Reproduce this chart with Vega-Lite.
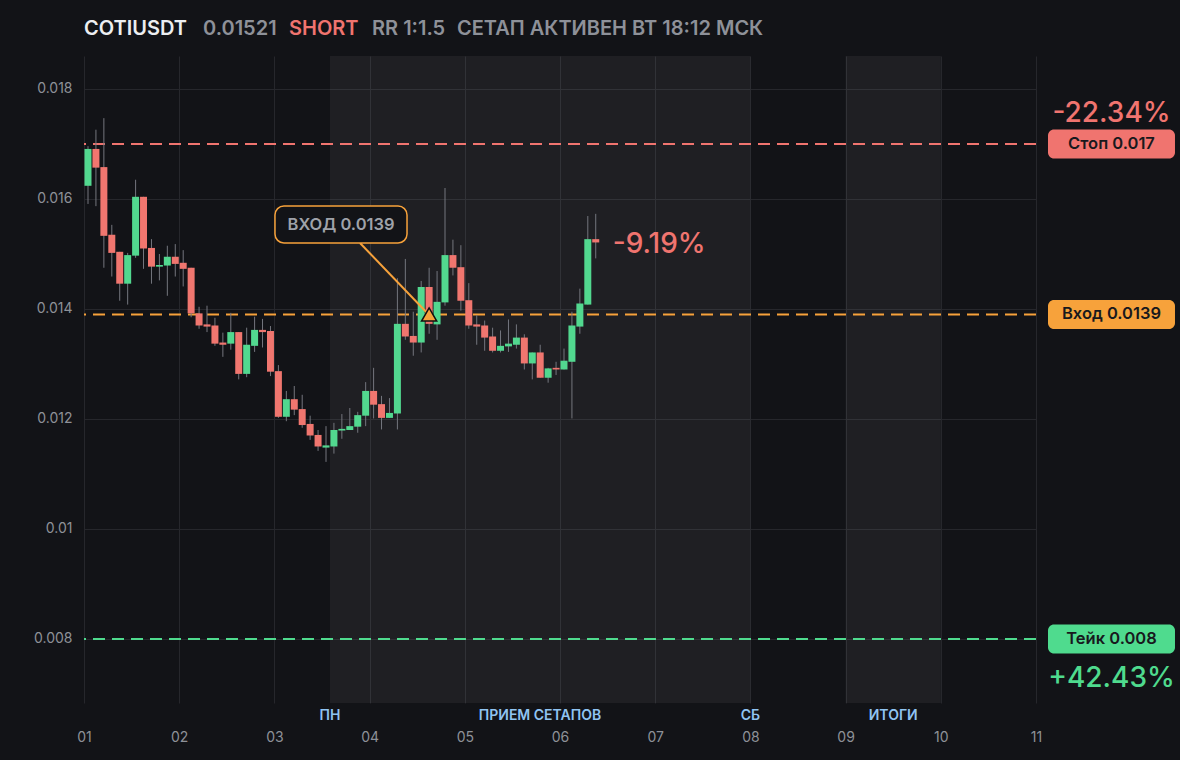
{
  "$schema": "https://vega.github.io/schema/vega-lite/v6.json",
  "width": 952,
  "height": 647,
  "autosize": {"type": "none"},
  "padding": {"left": 84, "top": 56, "right": 144, "bottom": 57},
  "background": "#121317",
  "config": {
    "font": "Inter",
    "view": {"stroke": null},
    "axis": {"domain": false, "ticks": false, "labelFlush": false, "gridColor": "#26272c", "gridWidth": 1, "labelFont": "Inter", "labelFontSize": 14, "labelColor": "#8e9198", "title": null}
  },
  "datasets": {
    "candles": [
      {"t": 1.0000, "o": 0.01624, "h": 0.01696, "l": 0.01591, "c": 0.01691},
      {"t": 1.0833, "o": 0.01691, "h": 0.01726, "l": 0.01587, "c": 0.01657},
      {"t": 1.1667, "o": 0.01658, "h": 0.01747, "l": 0.01475, "c": 0.01533},
      {"t": 1.2500, "o": 0.01535, "h": 0.01553, "l": 0.01459, "c": 0.01502},
      {"t": 1.3333, "o": 0.01504, "h": 0.01504, "l": 0.01415, "c": 0.01446},
      {"t": 1.4167, "o": 0.01446, "h": 0.01502, "l": 0.01408, "c": 0.01498},
      {"t": 1.5000, "o": 0.01497, "h": 0.01635, "l": 0.01493, "c": 0.01604},
      {"t": 1.5833, "o": 0.01604, "h": 0.01604, "l": 0.01473, "c": 0.01510},
      {"t": 1.6667, "o": 0.01511, "h": 0.01527, "l": 0.01446, "c": 0.01477},
      {"t": 1.7500, "o": 0.01477, "h": 0.01500, "l": 0.01452, "c": 0.01480},
      {"t": 1.8333, "o": 0.01479, "h": 0.01515, "l": 0.01424, "c": 0.01495},
      {"t": 1.9167, "o": 0.01495, "h": 0.01518, "l": 0.01459, "c": 0.01482},
      {"t": 2.0000, "o": 0.01484, "h": 0.01507, "l": 0.01441, "c": 0.01473},
      {"t": 2.0833, "o": 0.01475, "h": 0.01475, "l": 0.01385, "c": 0.01392},
      {"t": 2.1667, "o": 0.01392, "h": 0.01404, "l": 0.01364, "c": 0.01370},
      {"t": 2.2500, "o": 0.01372, "h": 0.01406, "l": 0.01358, "c": 0.01368},
      {"t": 2.3333, "o": 0.01370, "h": 0.01384, "l": 0.01333, "c": 0.01337},
      {"t": 2.4167, "o": 0.01339, "h": 0.01357, "l": 0.01313, "c": 0.01335},
      {"t": 2.5000, "o": 0.01337, "h": 0.01393, "l": 0.01326, "c": 0.01358},
      {"t": 2.5833, "o": 0.01358, "h": 0.01358, "l": 0.01272, "c": 0.01282},
      {"t": 2.6667, "o": 0.01282, "h": 0.01366, "l": 0.01276, "c": 0.01335},
      {"t": 2.7500, "o": 0.01333, "h": 0.01386, "l": 0.01322, "c": 0.01362},
      {"t": 2.8333, "o": 0.01362, "h": 0.01382, "l": 0.01330, "c": 0.01358},
      {"t": 2.9167, "o": 0.01360, "h": 0.01369, "l": 0.01278, "c": 0.01286},
      {"t": 3.0000, "o": 0.01287, "h": 0.01298, "l": 0.01202, "c": 0.01204},
      {"t": 3.0833, "o": 0.01204, "h": 0.01251, "l": 0.01196, "c": 0.01236},
      {"t": 3.1667, "o": 0.01236, "h": 0.01260, "l": 0.01207, "c": 0.01217},
      {"t": 3.2500, "o": 0.01218, "h": 0.01244, "l": 0.01184, "c": 0.01189},
      {"t": 3.3333, "o": 0.01191, "h": 0.01206, "l": 0.01162, "c": 0.01170},
      {"t": 3.4167, "o": 0.01171, "h": 0.01180, "l": 0.01142, "c": 0.01150},
      {"t": 3.5000, "o": 0.01148, "h": 0.01187, "l": 0.01122, "c": 0.01152},
      {"t": 3.5833, "o": 0.01150, "h": 0.01193, "l": 0.01137, "c": 0.01180},
      {"t": 3.6667, "o": 0.01179, "h": 0.01209, "l": 0.01164, "c": 0.01182},
      {"t": 3.7500, "o": 0.01180, "h": 0.01220, "l": 0.01180, "c": 0.01187},
      {"t": 3.8333, "o": 0.01186, "h": 0.01213, "l": 0.01175, "c": 0.01207},
      {"t": 3.9167, "o": 0.01206, "h": 0.01267, "l": 0.01187, "c": 0.01251},
      {"t": 4.0000, "o": 0.01251, "h": 0.01293, "l": 0.01201, "c": 0.01226},
      {"t": 4.0833, "o": 0.01227, "h": 0.01242, "l": 0.01181, "c": 0.01202},
      {"t": 4.1667, "o": 0.01202, "h": 0.01238, "l": 0.01202, "c": 0.01211},
      {"t": 4.2500, "o": 0.01210, "h": 0.01456, "l": 0.01181, "c": 0.01373},
      {"t": 4.3333, "o": 0.01373, "h": 0.01491, "l": 0.01344, "c": 0.01350},
      {"t": 4.4167, "o": 0.01351, "h": 0.01395, "l": 0.01315, "c": 0.01339},
      {"t": 4.5000, "o": 0.01339, "h": 0.01451, "l": 0.01321, "c": 0.01440},
      {"t": 4.5833, "o": 0.01440, "h": 0.01475, "l": 0.01355, "c": 0.01373},
      {"t": 4.6667, "o": 0.01372, "h": 0.01469, "l": 0.01344, "c": 0.01413},
      {"t": 4.7500, "o": 0.01412, "h": 0.01620, "l": 0.01406, "c": 0.01498},
      {"t": 4.8333, "o": 0.01498, "h": 0.01526, "l": 0.01461, "c": 0.01475},
      {"t": 4.9167, "o": 0.01476, "h": 0.01516, "l": 0.01397, "c": 0.01415},
      {"t": 5.0000, "o": 0.01416, "h": 0.01447, "l": 0.01364, "c": 0.01370},
      {"t": 5.0833, "o": 0.01372, "h": 0.01389, "l": 0.01335, "c": 0.01368},
      {"t": 5.1667, "o": 0.01370, "h": 0.01379, "l": 0.01324, "c": 0.01348},
      {"t": 5.2500, "o": 0.01350, "h": 0.01366, "l": 0.01321, "c": 0.01324},
      {"t": 5.3333, "o": 0.01324, "h": 0.01361, "l": 0.01321, "c": 0.01333},
      {"t": 5.4167, "o": 0.01332, "h": 0.01381, "l": 0.01322, "c": 0.01337},
      {"t": 5.5000, "o": 0.01335, "h": 0.01372, "l": 0.01328, "c": 0.01348},
      {"t": 5.5833, "o": 0.01348, "h": 0.01354, "l": 0.01290, "c": 0.01301},
      {"t": 5.6667, "o": 0.01301, "h": 0.01321, "l": 0.01272, "c": 0.01321},
      {"t": 5.7500, "o": 0.01321, "h": 0.01335, "l": 0.01275, "c": 0.01275},
      {"t": 5.8333, "o": 0.01275, "h": 0.01293, "l": 0.01266, "c": 0.01292},
      {"t": 5.9167, "o": 0.01293, "h": 0.01304, "l": 0.01280, "c": 0.01290},
      {"t": 6.0000, "o": 0.01290, "h": 0.01328, "l": 0.01290, "c": 0.01306},
      {"t": 6.0833, "o": 0.01304, "h": 0.01395, "l": 0.01201, "c": 0.01370},
      {"t": 6.1667, "o": 0.01368, "h": 0.01437, "l": 0.01355, "c": 0.01410},
      {"t": 6.2500, "o": 0.01408, "h": 0.01569, "l": 0.01408, "c": 0.01527},
      {"t": 6.3333, "o": 0.01527, "h": 0.01573, "l": 0.01492, "c": 0.01521}
    ],
    "levels": [
      {"name": "Стоп", "price": 0.017, "label": "Стоп 0.017", "pct": "-22.34%"},
      {"name": "Вход", "price": 0.0139, "label": "Вход 0.0139", "pct": ""},
      {"name": "Тейк", "price": 0.008, "label": "Тейк 0.008", "pct": "+42.43%"}
    ],
    "zones": [
      {"from": 3.5833, "to": 8},
      {"from": 9, "to": 10}
    ],
    "zoneLabels": [
      {"t": 3.5833, "name": "ПН"},
      {"t": 5.79, "name": "ПРИЕМ СЕТАПОВ"},
      {"t": 8, "name": "СБ"},
      {"t": 9.5, "name": "ИТОГИ"}
    ],
    "entry": [
      {"t": 4.5833, "price": 0.0139, "text": "ВХОД 0.0139"}
    ],
    "last": [
      {"t": 6.3333, "price": 0.01521, "text": "-9.19%"}
    ],
    "header": [
      {"part": "symbol", "text": "COTIUSDT"},
      {"part": "price", "text": "0.01521"},
      {"part": "side", "text": "SHORT"},
      {"part": "rr", "text": "RR 1:1.5"},
      {"part": "status", "text": "СЕТАП АКТИВЕН ВТ 18:12 МСК"}
    ]
  },
  "layer": [
    {
      "data": {"name": "zones"},
      "mark": {"type": "rect", "fill": "#ffffff", "opacity": 0.055},
      "encoding": {
        "x": {"field": "from", "type": "quantitative",
              "scale": {"domain": [1, 11], "nice": false, "zero": false, "padding": 0},
              "axis": {"values": [1, 2, 3, 4, 5, 6, 7, 8, 9, 10, 11], "format": "02d", "grid": true, "labelBaseline": "middle", "labelPadding": 34}},
        "x2": {"field": "to"}
      }
    },
    {
      "data": {"name": "levels"},
      "mark": {"type": "rule", "strokeDash": [12, 7], "strokeWidth": 2},
      "encoding": {
        "y": {"field": "price", "type": "quantitative",
              "scale": {"domain": [0.006836, 0.0186], "nice": false, "zero": false, "padding": 0},
              "axis": {"values": [0.008, 0.01, 0.012, 0.014, 0.016, 0.018], "format": "~g", "grid": true, "labelPadding": 12}},
        "color": {"field": "name", "type": "nominal", "scale": {"domain": ["Стоп", "Вход", "Тейк"], "range": ["#f0746f", "#f7a23b", "#4fdb8e"]}, "legend": null}
      }
    },
    {
      "data": {"name": "candles"},
      "mark": {"type": "rule", "color": "#74767e", "strokeWidth": 1, "xOffset": 4},
      "encoding": {
        "x": {"field": "t", "type": "quantitative"},
        "y": {"field": "l", "type": "quantitative"},
        "y2": {"field": "h"}
      }
    },
    {
      "data": {"name": "candles"},
      "mark": {"type": "bar", "size": 7, "xOffset": 4},
      "encoding": {
        "x": {"field": "t", "type": "quantitative"},
        "y": {"field": "o", "type": "quantitative"},
        "y2": {"field": "c"},
        "color": {"condition": {"test": "datum.c >= datum.o", "value": "#52d88f"}, "value": "#f0766f"}
      }
    },
    {
      "data": {"values": [{}]},
      "mark": {"type": "rule", "color": "#f7a23b", "strokeWidth": 2},
      "encoding": {
        "x": {"datum": 3.899}, "y": {"datum": 0.0152},
        "x2": {"datum": 4.62}, "y2": {"datum": 0.0139}
      }
    },
    {
      "data": {"values": [{}]},
      "mark": {"type": "rect", "fill": "#121317", "stroke": "#f7a23b", "strokeWidth": 1.5, "cornerRadius": 9},
      "encoding": {
        "x": {"datum": 3.006}, "x2": {"datum": 4.393},
        "y": {"datum": 0.015873}, "y2": {"datum": 0.0152}
      }
    },
    {
      "data": {"name": "entry"},
      "mark": {"type": "text", "fontSize": 16.5, "fontWeight": 600, "color": "#9fa2a9", "align": "center", "baseline": "middle"},
      "encoding": {
        "x": {"datum": 3.70}, "y": {"datum": 0.015536},
        "text": {"field": "text"}
      }
    },
    {
      "data": {"name": "entry"},
      "mark": {"type": "point", "shape": "triangle-up", "size": 230, "filled": true, "fill": "#f7a23b", "stroke": "#111111", "strokeWidth": 1.5, "opacity": 1, "xOffset": 4},
      "encoding": {
        "x": {"field": "t", "type": "quantitative"},
        "y": {"field": "price", "type": "quantitative"}
      }
    },
    {
      "data": {"name": "levels"},
      "mark": {"type": "bar", "size": 29, "cornerRadius": 6},
      "encoding": {
        "x": {"datum": 11.126}, "x2": {"datum": 12.46},
        "y": {"field": "price", "type": "quantitative"},
        "color": {"field": "name", "type": "nominal", "legend": null}
      }
    },
    {
      "data": {"name": "levels"},
      "mark": {"type": "text", "fontSize": 16.5, "fontWeight": 600, "color": "#18191d", "align": "center", "baseline": "middle"},
      "encoding": {
        "x": {"datum": 11.793},
        "y": {"field": "price", "type": "quantitative"},
        "text": {"field": "label"}
      }
    },
    {
      "data": {"name": "levels"},
      "transform": [{"filter": "datum.name === 'Стоп'"}],
      "mark": {"type": "text", "fontSize": 28, "fontWeight": 500, "align": "center", "baseline": "middle", "dy": -30},
      "encoding": {
        "x": {"datum": 11.793},
        "y": {"field": "price", "type": "quantitative"},
        "text": {"field": "pct"},
        "color": {"field": "name", "type": "nominal", "legend": null}
      }
    },
    {
      "data": {"name": "levels"},
      "transform": [{"filter": "datum.name === 'Тейк'"}],
      "mark": {"type": "text", "fontSize": 28, "fontWeight": 500, "align": "center", "baseline": "middle", "dy": 40},
      "encoding": {
        "x": {"datum": 11.793},
        "y": {"field": "price", "type": "quantitative"},
        "text": {"field": "pct"},
        "color": {"field": "name", "type": "nominal", "legend": null}
      }
    },
    {
      "data": {"name": "last"},
      "mark": {"type": "text", "fontSize": 28, "fontWeight": 500, "color": "#f0746f", "align": "left", "baseline": "middle", "dx": 21, "dy": 3},
      "encoding": {
        "x": {"field": "t", "type": "quantitative"},
        "y": {"field": "price", "type": "quantitative"},
        "text": {"field": "text"}
      }
    },
    {
      "data": {"name": "zoneLabels"},
      "mark": {"type": "text", "fontSize": 14, "fontWeight": 600, "color": "#90c4f2", "align": "center", "baseline": "middle", "dy": 13},
      "encoding": {
        "x": {"field": "t", "type": "quantitative"},
        "y": {"datum": 0.006836},
        "text": {"field": "name"}
      }
    },
    {
      "data": {"name": "header"},
      "transform": [{"filter": "datum.part === 'symbol'"}],
      "mark": {"type": "text", "fontSize": 20, "fontWeight": 600, "color": "#eceef1", "align": "left", "baseline": "middle", "dy": -27, "dx": 0},
      "encoding": {"x": {"datum": 1}, "y": {"datum": 0.0186}, "text": {"field": "text"}}
    },
    {
      "data": {"name": "header"},
      "transform": [{"filter": "datum.part === 'price'"}],
      "mark": {"type": "text", "fontSize": 20, "fontWeight": 600, "color": "#8e9199", "align": "left", "baseline": "middle", "dy": -27, "dx": 119},
      "encoding": {"x": {"datum": 1}, "y": {"datum": 0.0186}, "text": {"field": "text"}}
    },
    {
      "data": {"name": "header"},
      "transform": [{"filter": "datum.part === 'side'"}],
      "mark": {"type": "text", "fontSize": 20, "fontWeight": 600, "color": "#f0746f", "align": "left", "baseline": "middle", "dy": -27, "dx": 205},
      "encoding": {"x": {"datum": 1}, "y": {"datum": 0.0186}, "text": {"field": "text"}}
    },
    {
      "data": {"name": "header"},
      "transform": [{"filter": "datum.part === 'rr'"}],
      "mark": {"type": "text", "fontSize": 20, "fontWeight": 600, "color": "#8e9199", "align": "left", "baseline": "middle", "dy": -27, "dx": 288},
      "encoding": {"x": {"datum": 1}, "y": {"datum": 0.0186}, "text": {"field": "text"}}
    },
    {
      "data": {"name": "header"},
      "transform": [{"filter": "datum.part === 'status'"}],
      "mark": {"type": "text", "fontSize": 20, "fontWeight": 600, "color": "#8e9199", "align": "left", "baseline": "middle", "dy": -27, "dx": 373},
      "encoding": {"x": {"datum": 1}, "y": {"datum": 0.0186}, "text": {"field": "text"}}
    }
  ]
}
